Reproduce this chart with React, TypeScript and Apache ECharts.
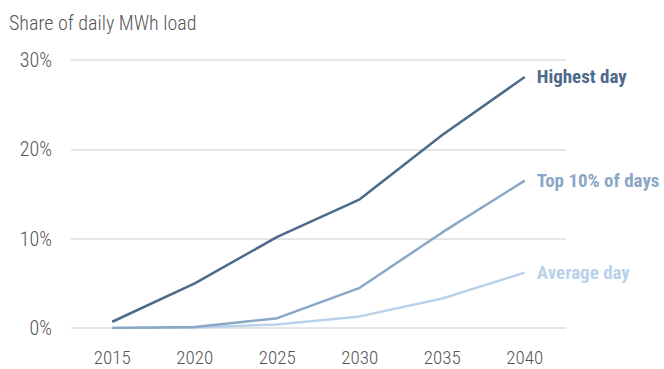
import React, { useEffect, useRef } from "react";
import * as echarts from "echarts";

const years = ["2015", "2020", "2025", "2030", "2035", "2040"];
const highestDay = [0.7, 5.0, 10.2, 14.4, 21.6, 28.1];
const top10Days = [0.0, 0.1, 1.1, 4.5, 10.7, 16.5];
const averageDay = [0.0, 0.05, 0.4, 1.3, 3.3, 6.2];
const seriesNames = ["Highest day", "Top 10% of days", "Average day"];
const colors = ["#4e6a8a", "#8aa7c7", "#b9d2ea"];
const yTicks = [0, 10, 20, 30];

const FONT = "'Roboto Condensed', 'Liberation Sans Narrow', sans-serif";

export default function App() {
  const ref = useRef<HTMLDivElement>(null);
  useEffect(() => {
    if (!ref.current) return;
    const chart = echarts.init(ref.current, null, { renderer: "svg" });
    const data = [highestDay, top10Days, averageDay];
    chart.setOption({
      animation: false,
      graphic: [
        {
          type: "text",
          left: 9,
          top: 13,
          style: { text: "Share of daily MWh load", font: `300 20px ${FONT}`, fill: "#555" },
        },
      ],
      grid: { left: 71, right: 98, top: 60, bottom: 41, containLabel: false },
      xAxis: {
        type: "category",
        data: years,
        boundaryGap: true,
        axisLine: { show: false },
        axisTick: { show: false },
        axisLabel: { color: "#555", fontSize: 19, fontWeight: 300, fontFamily: FONT, margin: 20 },
      },
      yAxis: {
        type: "value",
        min: yTicks[0],
        max: yTicks[yTicks.length - 1],
        interval: 10,
        axisLine: { show: false },
        axisTick: { show: false },
        axisLabel: { color: "#555", fontSize: 20, fontWeight: 300, fontFamily: FONT, margin: 19, formatter: "{value}%" },
        splitLine: { lineStyle: { color: "#dcdcdc", width: 1.5 } },
      },
      series: data.map((d, i) => ({
        type: "line",
        name: seriesNames[i],
        data: d,
        symbol: "none",
        lineStyle: { color: colors[i], width: 2.5 },
        z: 10 - i,
        endLabel: {
          show: true,
          formatter: seriesNames[i],
          color: colors[i],
          fontSize: 19,
          fontWeight: "bold",
          fontFamily: FONT,
          distance: 12,
        },
      })),
    });
    return () => chart.dispose();
  }, []);
  return <div ref={ref} style={{ position: "absolute", left: 0, top: 0, width: 664, height: 369 }} />;
}
